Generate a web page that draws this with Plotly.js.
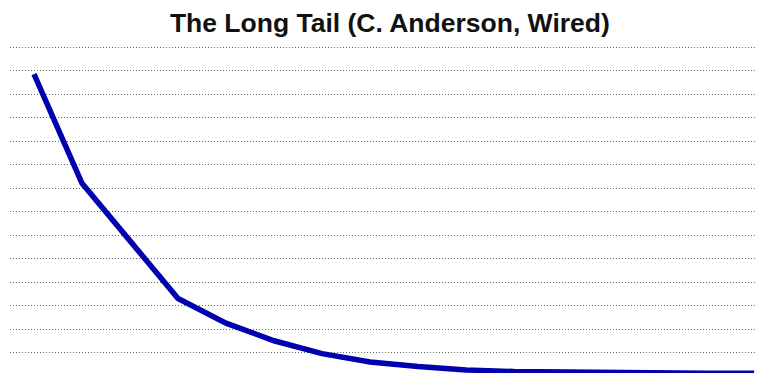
<!DOCTYPE html>
<html>
<head>
<meta charset="utf-8">
<script src="https://cdn.plot.ly/plotly-3.0.1.min.js"></script>
<style>html,body{margin:0;padding:0;background:#fff;}#chart{width:757px;height:373px;}</style>
</head>
<body>
<div id="chart"></div>
<script>
// Product rank (most popular to least popular)
var productRank = [0, 1, 2, 3, 4, 5, 6, 7, 8, 9, 10, 11, 12, 13, 14, 15];
// Popularity / sales (relative units)
var popularity = [12.85, 8.2, 5.75, 3.3, 2.25, 1.5, 0.95, 0.6, 0.4, 0.26, 0.19, 0.16, 0.14, 0.13, 0.12, 0.12];
var titleText = "The Long Tail (C. Anderson, Wired)";

var trace = {
  x: productRank,
  y: popularity,
  type: "scatter",
  mode: "lines",
  line: {color: "rgb(0,0,175)", width: 5.5},
  hoverinfo: "skip"
};

var layout = {
  width: 757,
  height: 373,
  margin: {l: 10, r: 0, t: 40, b: 0},
  paper_bgcolor: "#fff",
  plot_bgcolor: "#fff",
  showlegend: false,
  title: {
    text: "<b>" + titleText + "</b>",
    font: {family: "Liberation Sans, Arial, sans-serif", size: 26.5, color: "#111"},
    x: 0.515, xanchor: "center",
    y: 0.94, yanchor: "middle"
  },
  xaxis: {
    range: [-0.5, 15.06],
    showgrid: false, zeroline: false, showticklabels: false, ticks: "", showline: false
  },
  yaxis: {
    range: [0.128, 14.298],
    tick0: 0, dtick: 1,
    showgrid: true, gridcolor: "#666", griddash: "1px,2px", gridwidth: 1,
    zeroline: false, showticklabels: false, ticks: "", showline: false
  }
};

Plotly.newPlot("chart", [trace], layout, {displayModeBar: false, staticPlot: true});
</script>
</body>
</html>
